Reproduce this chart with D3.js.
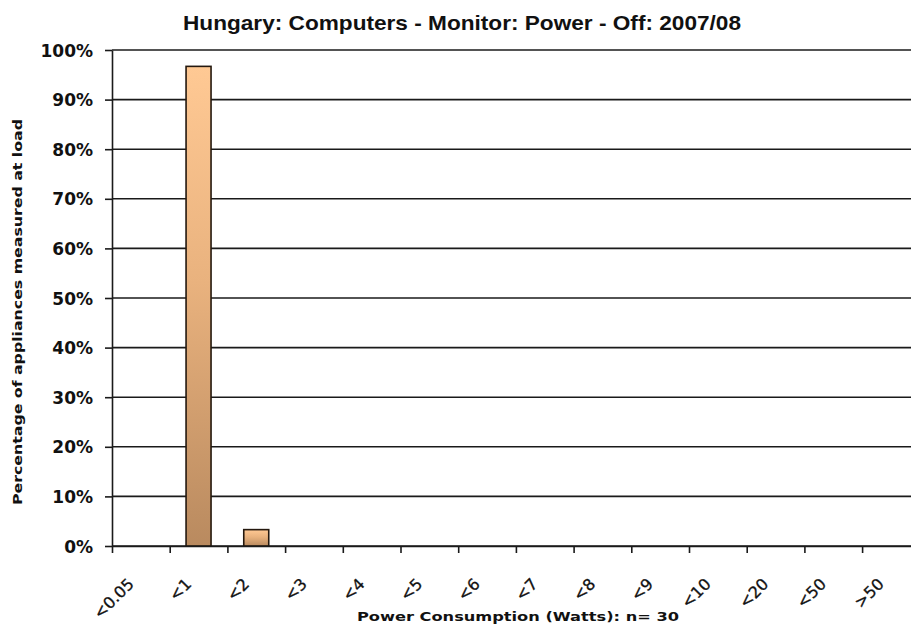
<!DOCTYPE html>
<html>
<head>
<meta charset="utf-8">
<style>
  body { margin: 0; background: #fff; }
  svg { display: block; }
  .title { font: bold 21px "Liberation Sans Narrow", "Liberation Sans", Arial, sans-serif; fill: #111; }
  .ytick text { font: bold 17px "DejaVu Sans", Verdana, sans-serif; fill: #111; }
  .xlab { font: 16px "DejaVu Sans", Verdana, sans-serif; fill: #111; stroke: #111; stroke-width: 0.3; }
  .atitle { font: bold 12px "DejaVu Sans", Verdana, sans-serif; fill: #111; }
</style>
<script src="https://d3js.org/d3.v7.min.js"></script>
</head>
<body>
<div id="chart"></div>
<script>
// data (n = 30 monitors)
var categories = ["<0.05", "<1", "<2", "<3", "<4", "<5", "<6", "<7", "<8", "<9", "<10", "<20", "<50", ">50"];
var shares = [0, 0.967, 0.033, 0, 0, 0, 0, 0, 0, 0, 0, 0, 0, 0];
var yTicks = [0, 0.1, 0.2, 0.3, 0.4, 0.5, 0.6, 0.7, 0.8, 0.9, 1.0];

var W = 911, H = 625;
var plotLeft = 112, plotBottom = 546, plotTop = 50;
var step = 57.7;
var plotRight = plotLeft + step * categories.length;   // runs past the window edge, like the original

var svg = d3.select("#chart").append("svg")
    .attr("width", W)
    .attr("height", H);

var defs = svg.append("defs");
var grad = defs.append("linearGradient")
    .attr("id", "barFill")
    .attr("x1", 0).attr("y1", 0).attr("x2", 0).attr("y2", 1);
grad.append("stop").attr("offset", "0%").attr("stop-color", "#ffc994");
grad.append("stop").attr("offset", "45%").attr("stop-color", "#e9b27e");
grad.append("stop").attr("offset", "100%").attr("stop-color", "#b98a5f");

var x = d3.scaleBand()
    .domain(categories)
    .range([plotLeft, plotRight])
    .paddingInner(0.567)
    .paddingOuter(0.2835);

var y = d3.scaleLinear().domain([0, 1]).range([plotBottom, plotTop]);

// gridlines
svg.append("g")
    .selectAll("line")
    .data(yTicks)
    .enter().append("line")
    .attr("x1", plotLeft).attr("x2", W)
    .attr("y1", d => y(d)).attr("y2", d => y(d))
    .attr("stroke", "#1a1a1a")
    .attr("stroke-width", 1.6);

// y axis
var yAxis = svg.append("g")
    .attr("class", "ytick")
    .attr("transform", "translate(" + plotLeft + ",0)")
    .call(d3.axisLeft(y).tickValues(yTicks).tickFormat(d3.format(".0%")).tickSize(7).tickSizeOuter(0).tickPadding(12));
yAxis.select(".domain").attr("stroke", "#1a1a1a").attr("stroke-width", 1.6);
yAxis.selectAll(".tick line").attr("stroke", "#1a1a1a").attr("stroke-width", 1.6);
yAxis.selectAll("text").attr("dy", "0.36em");

// bars
svg.append("g")
    .selectAll("rect")
    .data(shares)
    .enter().append("rect")
    .attr("x", (d, i) => x(categories[i]))
    .attr("width", x.bandwidth())
    .attr("y", d => y(d))
    .attr("height", d => plotBottom - y(d))
    .attr("fill", "url(#barFill)")
    .attr("stroke", "#24180e")
    .attr("stroke-width", d => d > 0 ? 1.6 : 0);

// x axis: ticks on the category boundaries
var xb = d3.scaleLinear().domain([0, categories.length]).range([plotLeft, plotRight]);
var xAxis = svg.append("g")
    .attr("transform", "translate(0," + plotBottom + ")")
    .call(d3.axisBottom(xb).tickValues(d3.range(0, categories.length + 1)).tickFormat("").tickSize(7).tickSizeOuter(0));
xAxis.select(".domain").attr("stroke", "#1a1a1a").attr("stroke-width", 1.6);
xAxis.selectAll(".tick line").attr("stroke", "#1a1a1a").attr("stroke-width", 1.6);

// rotated category labels
svg.append("g")
    .selectAll("text")
    .data(categories)
    .enter().append("text")
    .attr("class", "xlab")
    .attr("text-anchor", "end")
    .attr("transform", d => "translate(" + (x(d) + x.bandwidth() / 2 - 6) + "," + 585 + ") rotate(-45)")
    .text(d => d);

// titles
svg.append("text")
    .attr("class", "title")
    .attr("x", 462).attr("y", 30)
    .attr("text-anchor", "middle")
    .attr("textLength", 558)
    .attr("lengthAdjust", "spacingAndGlyphs")
    .text("Hungary: Computers - Monitor: Power - Off: 2007/08");

svg.append("text")
    .attr("class", "atitle")
    .attr("transform", "translate(22,312) rotate(-90)")
    .attr("text-anchor", "middle")
    .attr("textLength", 386)
    .attr("lengthAdjust", "spacingAndGlyphs")
    .text("Percentage of appliances measured at load");

svg.append("text")
    .attr("class", "atitle")
    .attr("x", 518).attr("y", 621)
    .attr("text-anchor", "middle")
    .attr("textLength", 322)
    .attr("lengthAdjust", "spacingAndGlyphs")
    .text("Power Consumption (Watts):  n= 30");
</script>
</body>
</html>
